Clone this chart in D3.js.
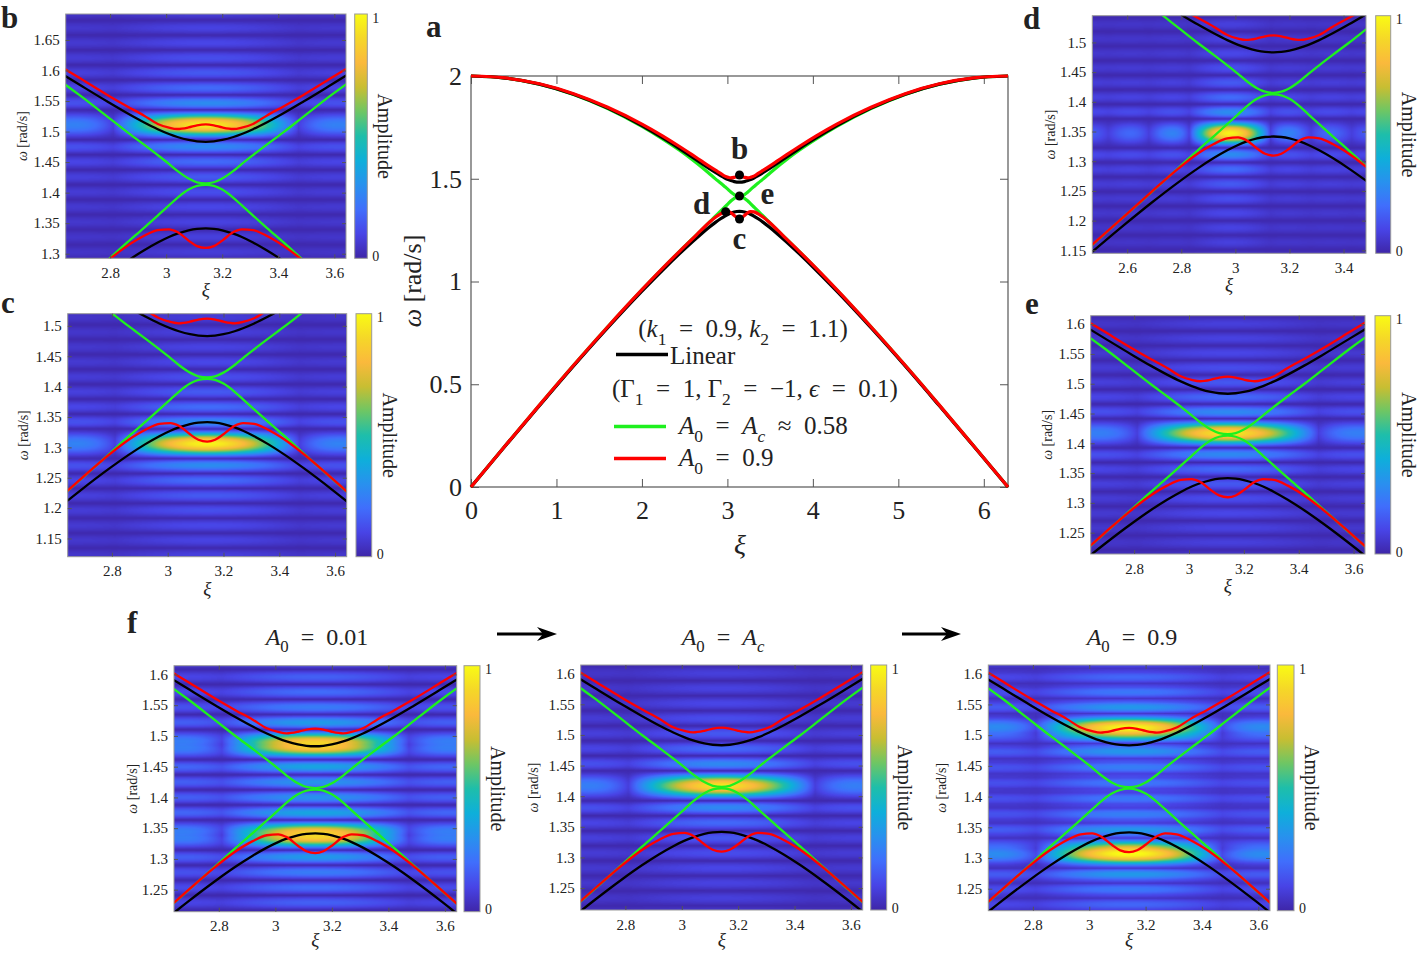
<!DOCTYPE html>
<html>
<head>
<meta charset="utf-8">
<script src="https://cdn.jsdelivr.net/npm/d3@7/dist/d3.min.js"></script>
<style>
    body { margin: 0; background: #fff; }
    text { font-family: "Liberation Serif", "Times New Roman", serif; fill: #222; }
</style>
</head>
<body>
<svg id="figure" width="1420" height="953"></svg>
<script>
/* global d3 */

// wavenumber samples shared by every dispersion curve
const xiSamples = [0, 0.4, 0.8, 1.2, 1.6, 2.0, 2.24, 2.44, 2.59, 2.69, 2.79, 2.86, 2.92, 2.97, 3.01, 3.04, 3.08, 3.11,
    3.1416, 3.17, 3.2, 3.24, 3.27, 3.31, 3.36, 3.42, 3.49, 3.59, 3.69, 3.84, 4.04, 4.28, 4.68, 5.08, 5.48, 5.88, 6.2832];

// linear dispersion (black)
const linearUpper = [2.0, 1.990, 1.9606, 1.9114, 1.8438, 1.7585, 1.6995, 1.6465, 1.6051, 1.5770, 1.5492, 1.5304, 1.5153, 1.5039, 1.4960, 1.4911, 1.4862, 1.4840,
    1.4832, 1.4840, 1.4862, 1.4911, 1.4960, 1.5039, 1.5153, 1.5304, 1.5492, 1.5770, 1.6051, 1.6465, 1.6995, 1.7585, 1.8438, 1.9114, 1.9606, 1.990, 2.0];
const linearLower = [0, 0.1995, 0.3952, 0.5886, 0.7748, 0.9527, 1.0543, 1.1353, 1.1932, 1.2301, 1.2649, 1.2876, 1.3053, 1.3184, 1.3274, 1.3329, 1.3384, 1.3408,
    1.3416, 1.3408, 1.3384, 1.3329, 1.3274, 1.3184, 1.3053, 1.2876, 1.2649, 1.2301, 1.1932, 1.1353, 1.0543, 0.9527, 0.7748, 0.5886, 0.3952, 0.1995, 0];

// A0 = Ac (green)
const criticalUpper = [2.0, 1.9899, 1.9600, 1.9104, 1.8418, 1.7548, 1.6941, 1.6388, 1.5930, 1.5600, 1.5245, 1.4995, 1.4790, 1.4615, 1.4470, 1.4355, 1.4230, 1.4170,
    1.4152, 1.4170, 1.4230, 1.4355, 1.4470, 1.4615, 1.4790, 1.4995, 1.5245, 1.5600, 1.5930, 1.6388, 1.6941, 1.7548, 1.8418, 1.9104, 1.9600, 1.9899, 2.0];
const criticalLower = [0, 0.2005, 0.3981, 0.5918, 0.7796, 0.9596, 1.0631, 1.1464, 1.2075, 1.2480, 1.2890, 1.3180, 1.3420, 1.3625, 1.3790, 1.3915, 1.4050, 1.4110,
    1.4128, 1.4110, 1.4050, 1.3915, 1.3790, 1.3625, 1.3420, 1.3180, 1.2890, 1.2480, 1.2075, 1.1464, 1.0631, 0.9596, 0.7796, 0.5918, 0.3981, 0.2005, 0];

// A0 = 0.9 (red)
const strongUpper = [2.0, 1.9905, 1.9620, 1.9140, 1.8480, 1.7660, 1.7090, 1.6570, 1.6160, 1.5880, 1.5600, 1.5415, 1.5265, 1.5125, 1.5065, 1.5042, 1.5068, 1.5103,
    1.5118, 1.5103, 1.5068, 1.5042, 1.5065, 1.5125, 1.5265, 1.5415, 1.5600, 1.5880, 1.6160, 1.6570, 1.7090, 1.7660, 1.8480, 1.9140, 1.9620, 1.9905, 2.0];
const strongLower = [0, 0.2005, 0.3985, 0.5925, 0.7800, 0.9600, 1.0635, 1.1470, 1.2075, 1.2485, 1.2880, 1.3125, 1.3290, 1.3385, 1.3400, 1.3355, 1.3215, 1.3125,
    1.3095, 1.3125, 1.3215, 1.3355, 1.3400, 1.3385, 1.3290, 1.3125, 1.2880, 1.2485, 1.2075, 1.1470, 1.0635, 0.9600, 0.7800, 0.5925, 0.3985, 0.2005, 0];

// marked points in panel a
const pointNames = ["b", "e", "c", "d"];
const pointXi = [3.1416, 3.1416, 3.1416, 2.98];
const pointOmega = [1.518, 1.416, 1.304, 1.34];

// spectral peaks: [xi, omega, amplitude, xi width]
const blobsB = [[3.1416, 1.511, 1.0, 0.33]];
const blobsC = [[3.1416, 1.306, 1.02, 0.33]];
const blobsD = [[2.98, 1.347, 1.02, 0.15]];
const blobsE = [[3.1416, 1.417, 0.98, 0.33]];
const blobsF1 = [[3.1416, 1.486, 0.93, 0.33], [3.1416, 1.339, 0.93, 0.33]];
const blobsF2 = [[3.1416, 1.417, 0.97, 0.33]];
const blobsF3 = [[3.1416, 1.511, 0.98, 0.33], [3.1416, 1.308, 1.0, 0.33]];
const stripePeriod = 0.0245;

const mainXTicks = [0, 1, 2, 3, 4, 5, 6];
const mainYTicks = [0, 0.5, 1, 1.5, 2];
const xiTicks = [2.8, 3, 3.2, 3.4, 3.6];
const xiTicksD = [2.6, 2.8, 3, 3.2, 3.4];
const omegaTicksB = [1.3, 1.35, 1.4, 1.45, 1.5, 1.55, 1.6, 1.65];
const omegaTicksCD = [1.15, 1.2, 1.25, 1.3, 1.35, 1.4, 1.45, 1.5];
const omegaTicksEF = [1.25, 1.3, 1.35, 1.4, 1.45, 1.5, 1.55, 1.6];

const fig = d3.select("#figure");
const serif = '"Liberation Serif", "Times New Roman", serif';
const green = "#1ef01e";

const parulaStops = ["rgb(62,38,168)", "rgb(72,68,230)", "rgb(64,110,252)", "rgb(40,145,238)", "rgb(14,175,218)",
    "rgb(30,190,170)", "rgb(110,198,100)", "rgb(200,190,50)", "rgb(250,185,60)", "rgb(245,215,40)", "rgb(249,251,20)"];
const parula = d3.scaleLinear()
    .domain(d3.range(11).map(i => i / 10))
    .range(parulaStops)
    .clamp(true);
const lut = d3.range(256).map(i => d3.rgb(parula(i / 255)));

const grad = fig.append("defs").append("linearGradient")
    .attr("id", "parula")
    .attr("x1", 0).attr("y1", 1).attr("x2", 0).attr("y2", 0);
grad.selectAll("stop")
    .data(d3.range(21))
    .join("stop")
    .attr("offset", d => d / 20)
    .attr("stop-color", d => parula(d / 20));

function sincAbs(u) {
    if (Math.abs(u) < 1e-9) return 1;
    const v = Math.PI * u;
    return Math.abs(Math.sin(v) / v);
}

// peak spread: main lobe plus side lobes in xi, fringes in omega
function amplitude(xi, om, blobs) {
    let v = 0.01;
    blobs.forEach(([bx, bw, amp, wx]) => {
        const ux = (xi - bx) / wx, uw = (om - bw) / stripePeriod;
        const kx = Math.abs(ux) < 1 ? Math.pow(sincAbs(ux), 0.8) : 0.9 * sincAbs(ux);
        const kw = sincAbs(uw);
        const band = Math.abs(uw) < 1 ? 0.6 * kw
            : Math.pow(Math.abs(Math.sin(Math.PI * uw)), 1.3) / (1 + 0.3 * Math.abs(uw));
        v += amp * (0.88 * kx * kw + 0.12 * band);
    });
    return Math.min(1, v);
}

function mathText(sel, parts, size) {
    let lift = 0;
    parts.forEach(([t, f = ""]) => {
        const sub = f.includes("s");
        const target = sub ? size * 0.3 : 0;
        sel.append("tspan")
            .attr("dy", target - lift)
            .attr("font-size", sub ? size * 0.7 : size)
            .attr("font-style", f.includes("i") ? "italic" : null)
            .text(t);
        lift = target;
    });
    return sel;
}

const curveSets = [
    {up: criticalUpper, lo: criticalLower, color: green},
    {up: linearUpper, lo: linearLower, color: "#000"},
    {up: strongUpper, lo: strongLower, color: "#f00"}
];

function drawCurves(g, x, y, width) {
    const line = d3.line()
        .x((d, i) => x(xiSamples[i]))
        .y(d => y(d))
        .curve(d3.curveMonotoneX);
    curveSets.forEach(s => [s.up, s.lo].forEach(vals => {
        g.append("path")
            .attr("d", line(vals))
            .attr("fill", "none")
            .attr("stroke", s.color)
            .attr("stroke-width", width);
    }));
}

function styleAxis(g, size) {
    g.attr("font-family", serif).attr("font-size", size).attr("color", "#555");
    g.select(".domain").remove();
    g.selectAll("text").attr("fill", "#262626");
}

function letter(x, y, t) {
    fig.append("text")
        .attr("x", x).attr("y", y)
        .attr("font-size", 31)
        .attr("font-weight", "bold")
        .attr("fill", "#000")
        .text(t);
}

// ---------- panel a ----------
(function () {
    const left = 471, right = 1008, top = 76, bottom = 487;
    const x = d3.scaleLinear().domain([0, 2 * Math.PI]).range([left, right]);
    const y = d3.scaleLinear().domain([0, 2]).range([bottom, top]);
    const g = fig.append("g");

    g.append("rect")
        .attr("x", left).attr("y", top)
        .attr("width", right - left).attr("height", bottom - top)
        .attr("fill", "none").attr("stroke", "#555").attr("stroke-width", 1.2);

    g.append("g").attr("transform", `translate(0,${bottom})`)
        .call(d3.axisBottom(x).tickValues(mainXTicks).tickFormat(d3.format("d")).tickSize(-8).tickPadding(14))
        .call(styleAxis, 26);
    g.append("g").attr("transform", `translate(${left},0)`)
        .call(d3.axisLeft(y).tickValues(mainYTicks).tickFormat(d => `${d}`).tickSize(-8).tickPadding(9))
        .call(styleAxis, 26);
    g.append("g").attr("transform", `translate(0,${top})`)
        .call(d3.axisTop(x).tickValues(mainXTicks).tickFormat("").tickSize(-8))
        .call(styleAxis, 26);
    g.append("g").attr("transform", `translate(${right},0)`)
        .call(d3.axisRight(y).tickValues(mainYTicks).tickFormat("").tickSize(-8))
        .call(styleAxis, 26);

    drawCurves(g.append("g"), x, y, 3.2);

    g.selectAll("circle.pt")
        .data(pointNames)
        .join("circle")
        .attr("cx", (d, i) => x(pointXi[i]))
        .attr("cy", (d, i) => y(pointOmega[i]))
        .attr("r", 4.5)
        .attr("fill", "#000");

    const offsets = {b: [0, -27], e: [28, -3], c: [0, 19], d: [-24, -8]};
    g.selectAll("text.pt")
        .data(pointNames)
        .join("text")
        .attr("x", (d, i) => x(pointXi[i]) + offsets[d][0])
        .attr("y", (d, i) => y(pointOmega[i]) + offsets[d][1])
        .attr("text-anchor", "middle")
        .attr("dominant-baseline", "central")
        .attr("font-size", 31)
        .attr("font-weight", "bold")
        .attr("fill", "#000")
        .text(d => d);

    mathText(g.append("text").attr("transform", "translate(412,281) rotate(-90)")
        .attr("text-anchor", "middle").attr("dominant-baseline", "central"),
    [["ω", "i"], [" [rad/s]"]], 26);
    mathText(g.append("text").attr("x", 740).attr("y", 554).attr("text-anchor", "middle"), [["ξ", "i"]], 28);

    // legend
    const fs = 25, sp = "\u2002";
    mathText(g.append("text").attr("x", 743).attr("y", 337).attr("text-anchor", "middle"),
        [["("], ["k", "i"], ["1", "s"], [`${sp}=${sp}0.9, `], ["k", "i"], ["2", "s"], [`${sp}=${sp}1.1)`]], fs);
    g.append("line").attr("x1", 616).attr("x2", 668).attr("y1", 354.5).attr("y2", 354.5)
        .attr("stroke", "#000").attr("stroke-width", 3.5);
    mathText(g.append("text").attr("x", 670).attr("y", 364), [["Linear"]], fs);
    mathText(g.append("text").attr("x", 612).attr("y", 397),
        [["(Γ"], ["1", "s"], [`${sp}=${sp}1, Γ`], ["2", "s"], [`${sp}=${sp}−1, `], ["ϵ", "i"], [`${sp}=${sp}0.1)`]], fs);
    g.append("line").attr("x1", 614).attr("x2", 666).attr("y1", 426.5).attr("y2", 426.5)
        .attr("stroke", green).attr("stroke-width", 3.5);
    mathText(g.append("text").attr("x", 679).attr("y", 434),
        [["A", "i"], ["0", "s"], [`${sp}=${sp}`], ["A", "i"], ["c", "si"], [`${sp}≈${sp}0.58`]], fs);
    g.append("line").attr("x1", 614).attr("x2", 666).attr("y1", 458.5).attr("y2", 458.5)
        .attr("stroke", "#f00").attr("stroke-width", 3.5);
    mathText(g.append("text").attr("x", 679).attr("y", 466),
        [["A", "i"], ["0", "s"], [`${sp}=${sp}0.9`]], fs);

    letter(426, 37, "a");
})();

// ---------- heatmap panels ----------
function heatPanel(p) {
    const [left, right, top, bottom] = p.box;
    const x = d3.scaleLinear().domain(p.xDomain).range([left, right]);
    const y = d3.scaleLinear().domain(p.yDomain).range([bottom, top]);
    const g = fig.append("g");

    const w = Math.round(right - left), h = Math.round(bottom - top);
    const canvas = document.createElement("canvas");
    canvas.width = w;
    canvas.height = h;
    const ctx = canvas.getContext("2d");
    const img = ctx.createImageData(w, h);
    for (let j = 0; j < h; j++) {
        const om = y.invert(top + (j + 0.5) * (bottom - top) / h);
        for (let i = 0; i < w; i++) {
            const xi = x.invert(left + (i + 0.5) * (right - left) / w);
            const c = lut[Math.round(amplitude(xi, om, p.blobs) * 255)];
            const k = 4 * (j * w + i);
            img.data[k] = c.r;
            img.data[k + 1] = c.g;
            img.data[k + 2] = c.b;
            img.data[k + 3] = 255;
        }
    }
    ctx.putImageData(img, 0, 0);
    g.append("image")
        .attr("x", left).attr("y", top)
        .attr("width", right - left).attr("height", bottom - top)
        .attr("preserveAspectRatio", "none")
        .attr("href", canvas.toDataURL());

    const clipId = "clip-" + p.name;
    g.append("clipPath").attr("id", clipId)
        .append("rect")
        .attr("x", left).attr("y", top)
        .attr("width", right - left).attr("height", bottom - top);
    drawCurves(g.append("g").attr("clip-path", `url(#${clipId})`), x, y, 2.3);

    g.append("rect")
        .attr("x", left).attr("y", top)
        .attr("width", right - left).attr("height", bottom - top)
        .attr("fill", "none").attr("stroke", "#999").attr("stroke-width", 1);

    const fmt = d => `${+d.toFixed(2)}`;
    g.append("g").attr("transform", `translate(0,${bottom})`)
        .call(d3.axisBottom(x).tickValues(p.xTicks).tickFormat(fmt).tickSize(-4).tickPadding(9))
        .call(styleAxis, 15);
    g.append("g").attr("transform", `translate(${left},0)`)
        .call(d3.axisLeft(y).tickValues(p.yTicks).tickFormat(fmt).tickSize(-4).tickPadding(6))
        .call(styleAxis, 15);
    g.append("g").attr("transform", `translate(0,${top})`)
        .call(d3.axisTop(x).tickValues(p.xTicks).tickFormat("").tickSize(-4))
        .call(styleAxis, 15);
    g.append("g").attr("transform", `translate(${right},0)`)
        .call(d3.axisRight(y).tickValues(p.yTicks).tickFormat("").tickSize(-4))
        .call(styleAxis, 15);

    mathText(g.append("text").attr("x", (left + right) / 2).attr("y", Math.min(bottom + 38, 946))
        .attr("text-anchor", "middle"), [["ξ", "i"]], 19);
    mathText(g.append("text")
        .attr("transform", `translate(${p.omegaX},${(top + bottom) / 2}) rotate(-90)`)
        .attr("text-anchor", "middle").attr("dominant-baseline", "central"),
    [["ω", "i"], [" [rad/s]"]], 14);

    // colour bar
    const [b0, b1] = p.bar;
    g.append("rect")
        .attr("x", b0).attr("y", top)
        .attr("width", b1 - b0).attr("height", bottom - top)
        .attr("fill", "url(#parula)")
        .attr("stroke", "#999");
    g.append("text").attr("x", b1 + 5).attr("y", top + 4)
        .attr("dominant-baseline", "central").attr("font-size", 14).text("1");
    g.append("text").attr("x", b1 + 5).attr("y", bottom - 2)
        .attr("dominant-baseline", "central").attr("font-size", 14).text("0");
    g.append("text")
        .attr("transform", `translate(${b1 + 18},${(top + bottom) / 2}) rotate(90)`)
        .attr("text-anchor", "middle").attr("dominant-baseline", "central")
        .attr("font-size", 20)
        .text("Amplitude");

    if (p.letter) letter(p.letter[0], p.letter[1], p.name);
}

const xiWindow = [2.6416, 3.6416];
[
    {name: "b", box: [65.7, 346, 14, 258.3], xDomain: xiWindow, yDomain: [1.2925, 1.6925],
        xTicks: xiTicks, yTicks: omegaTicksB, blobs: blobsB, bar: [354.7, 367.3], omegaX: 22, letter: [1, 28]},
    {name: "c", box: [67.7, 346.7, 313.7, 556.7], xDomain: xiWindow, yDomain: [1.12, 1.52],
        xTicks: xiTicks, yTicks: omegaTicksCD, blobs: blobsC, bar: [356, 371.7], omegaX: 23, letter: [1, 313]},
    {name: "d", box: [1092.3, 1366, 15.7, 253.3], xDomain: [2.471, 3.483], yDomain: [1.145, 1.545],
        xTicks: xiTicksD, yTicks: omegaTicksCD, blobs: blobsD, bar: [1375.7, 1390.7], omegaX: 1050, letter: [1023, 29]},
    {name: "e", box: [1090.7, 1365, 315.7, 554], xDomain: xiWindow, yDomain: [1.2142, 1.6142],
        xTicks: xiTicks, yTicks: omegaTicksEF, blobs: blobsE, bar: [1375, 1390.7], omegaX: 1047, letter: [1025, 314]},
    {name: "f1", box: [174, 456.7, 665.7, 911.7], xDomain: xiWindow, yDomain: [1.2142, 1.6142],
        xTicks: xiTicks, yTicks: omegaTicksEF, blobs: blobsF1, bar: [464, 480], omegaX: 132},
    {name: "f2", box: [580.7, 862.7, 665, 910], xDomain: xiWindow, yDomain: [1.2142, 1.6142],
        xTicks: xiTicks, yTicks: omegaTicksEF, blobs: blobsF2, bar: [870.7, 886.7], omegaX: 533},
    {name: "f3", box: [988.3, 1270, 665, 910.7], xDomain: xiWindow, yDomain: [1.2142, 1.6142],
        xTicks: xiTicks, yTicks: omegaTicksEF, blobs: blobsF3, bar: [1277.3, 1294], omegaX: 941}
].forEach(heatPanel);

// ---------- panel f titles and arrows ----------
letter(127, 633, "f");
const sp = "\u2002";
mathText(fig.append("text").attr("x", 317).attr("y", 645).attr("text-anchor", "middle"),
    [["A", "i"], ["0", "s"], [`${sp}=${sp}0.01`]], 24);
mathText(fig.append("text").attr("x", 723).attr("y", 645).attr("text-anchor", "middle"),
    [["A", "i"], ["0", "s"], [`${sp}=${sp}`], ["A", "i"], ["c", "si"]], 24);
mathText(fig.append("text").attr("x", 1132).attr("y", 645).attr("text-anchor", "middle"),
    [["A", "i"], ["0", "s"], [`${sp}=${sp}0.9`]], 24);

[[497, 557], [902, 961]].forEach(([a, b]) => {
    fig.append("line").attr("x1", a).attr("x2", b - 12).attr("y1", 634).attr("y2", 634)
        .attr("stroke", "#000").attr("stroke-width", 3);
    fig.append("path")
        .attr("d", `M${b},634 L${b - 20},627 L${b - 14},634 L${b - 20},641 Z`)
        .attr("fill", "#000");
});
</script>
</body>
</html>
